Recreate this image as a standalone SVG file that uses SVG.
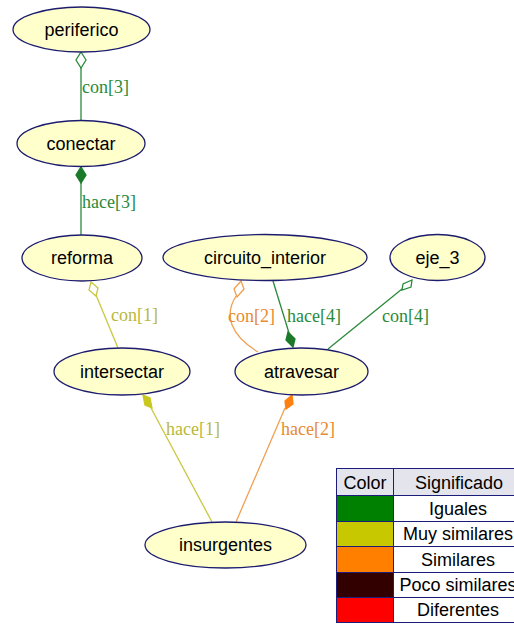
<svg xmlns="http://www.w3.org/2000/svg" width="514" height="625" viewBox="0 0 514 625">
<style>
.node ellipse{fill:#ffffcc;stroke:#1c1c6e;stroke-width:1.3}
.node text{font-family:"Liberation Sans",Arial,sans-serif;font-size:18px;fill:#000;text-anchor:middle}
.e{fill:none;stroke-width:1.3}
.lbl{font-family:"Liberation Serif","Times New Roman",serif;font-size:18px}
.g{stroke:#2a8a3a}.gt{fill:#2a8a3a}
.y{stroke:#c8c840}.yt{fill:#b8b83c}
.o{stroke:#f0a050}.ot{fill:#e88a30}
.lg text{font-family:"Liberation Sans",Arial,sans-serif;font-size:18px;text-anchor:middle;fill:#000}
.lg rect{stroke:#1c1c7a;stroke-width:1}
</style>
<rect width="514" height="625" fill="#fff"/>
<g id="edges">
  <!-- periferico -> conectar -->
  <path class="e g" d="M81,68 L81,120"/>
  <path d="M81,52 L86,60 L81,68 L76,60 Z" fill="#fff" stroke="#2a8a3a" stroke-width="1.3"/>
  <text class="lbl gt" x="82" y="93">con[3]</text>
  <!-- conectar -> reforma -->
  <path class="e g" d="M81,183 L81,235"/>
  <path d="M81,167 L86,175 L81,183 L76,175 Z" fill="#1a7a2a" stroke="#1a7a2a" stroke-width="1.3"/>
  <text class="lbl gt" x="82" y="208">hace[3]</text>
  <!-- reforma -> intersectar -->
  <path class="e y" d="M96,295 L118,348"/>
  <path d="M91,282 L98,288 L96,296 L89,290 Z" fill="#fff" stroke="#c8c840" stroke-width="1.3"/>
  <text class="lbl yt" x="111" y="321">con[1]</text>
  <!-- circuito_interior -> atravesar con[2] -->
  <path class="e o" d="M236,296 C224,315 230,335 258,352"/>
  <path d="M241,281 L244,289 L237,297 L234,289 Z" fill="#fff" stroke="#f0a050" stroke-width="1.3"/>
  <text class="lbl ot" x="228" y="322">con[2]</text>
  <!-- circuito_interior -> atravesar hace[4] -->
  <path class="e g" d="M273,281 L289,333"/>
  <path d="M293,347 L286,340 L288,332 L295,339 Z" fill="#1a7a2a" stroke="#1a7a2a" stroke-width="1.3"/>
  <text class="lbl gt" x="287" y="322">hace[4]</text>
  <!-- eje_3 -> atravesar con[4] -->
  <path class="e g" d="M402,289 L328,349"/>
  <path d="M412,280 L411,287 L402,290 L403,284 Z" fill="#fff" stroke="#2a8a3a" stroke-width="1.3"/>
  <text class="lbl gt" x="382" y="322">con[4]</text>
  <!-- intersectar -> insurgentes hace[1] -->
  <path class="e y" d="M151,408 L212,522"/>
  <path d="M143,395 L150,398 L152,408 L145,405 Z" fill="#c8c820" stroke="#c8c820" stroke-width="1.3"/>
  <text class="lbl yt" x="166" y="435">hace[1]</text>
  <!-- atravesar -> insurgentes hace[2] -->
  <path class="e o" d="M285,408 L236,522"/>
  <path d="M292,395 L293,404 L286,409 L285,401 Z" fill="#ff8010" stroke="#ff8010" stroke-width="1.3"/>
  <text class="lbl ot" x="281" y="435">hace[2]</text>
</g>
<g id="periferico" class="node"><ellipse cx="81.5" cy="29.5" rx="68.5" ry="22.5"/><text x="81.5" y="35.5">periferico</text></g>
<g id="conectar" class="node"><ellipse cx="81" cy="143.5" rx="64" ry="23"/><text x="81" y="149.5">conectar</text></g>
<g id="reforma" class="node"><ellipse cx="82" cy="258" rx="60" ry="23"/><text x="82" y="264">reforma</text></g>
<g id="circuito_interior" class="node"><ellipse cx="265" cy="257.5" rx="102" ry="23"/><text x="265" y="263.5">circuito_interior</text></g>
<g id="eje_3" class="node"><ellipse cx="437.5" cy="257.5" rx="47.5" ry="23"/><text x="437.5" y="263.5">eje_3</text></g>
<g id="intersectar" class="node"><ellipse cx="122" cy="371.5" rx="68" ry="23.5"/><text x="122" y="377.5">intersectar</text></g>
<g id="atravesar" class="node"><ellipse cx="301.5" cy="371.5" rx="66.5" ry="23.5"/><text x="301.5" y="377.5">atravesar</text></g>
<g id="insurgentes" class="node"><ellipse cx="225.5" cy="545" rx="80.5" ry="23"/><text x="225.5" y="551">insurgentes</text></g>
<g id="legend" class="lg">
  <rect x="336.5" y="468.5" width="57" height="27" fill="#e4e4ec"/>
  <rect x="393.5" y="468.5" width="130" height="27" fill="#e4e4ec"/>
  <text x="365" y="489">Color</text><text x="459" y="489">Significado</text>
  <rect x="336.5" y="495.5" width="57" height="26" fill="#008000"/>
  <rect x="393.5" y="495.5" width="130" height="26" fill="#fff"/>
  <text x="458" y="515">Iguales</text>
  <rect x="336.5" y="521.5" width="57" height="25" fill="#c8c800"/>
  <rect x="393.5" y="521.5" width="130" height="25" fill="#fff"/>
  <text x="458" y="540">Muy similares</text>
  <rect x="336.5" y="546.5" width="57" height="26" fill="#ff8000"/>
  <rect x="393.5" y="546.5" width="130" height="26" fill="#fff"/>
  <text x="458" y="566">Similares</text>
  <rect x="336.5" y="572.5" width="57" height="25" fill="#330000"/>
  <rect x="393.5" y="572.5" width="130" height="25" fill="#fff"/>
  <text x="458" y="591">Poco similares</text>
  <rect x="336.5" y="597.5" width="57" height="25" fill="#ff0000"/>
  <rect x="393.5" y="597.5" width="130" height="25" fill="#fff"/>
  <text x="458" y="616">Diferentes</text>
</g>
</svg>
